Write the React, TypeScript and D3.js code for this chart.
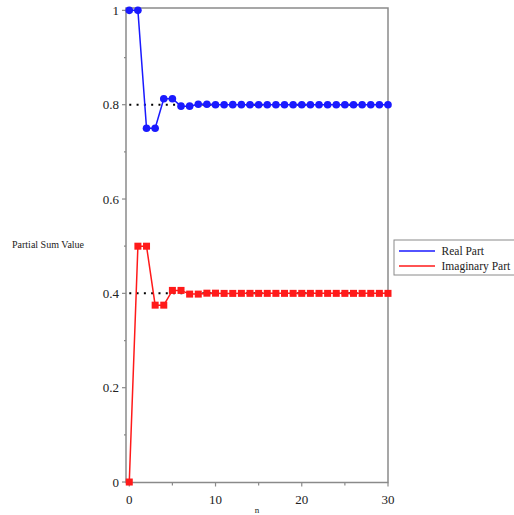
import React from "react";
import * as d3 from "d3";

const nValues = [0,1,2,3,4,5,6,7,8,9,10,11,12,13,14,15,16,17,18,19,20,21,22,23,24,25,26,27,28,29,30];
const realPart = [1,1,0.75,0.75,0.8125,0.8125,0.796875,0.796875,0.80078125,0.80078125,0.7998046875,0.7998046875,0.80004883,0.80004883,0.79998779,0.79998779,0.80000305,0.80000305,0.79999924,0.79999924,0.80000019,0.80000019,0.79999995,0.79999995,0.80000001,0.80000001,0.8,0.8,0.8,0.8,0.8];
const imagPart = [0,0.5,0.5,0.375,0.375,0.40625,0.40625,0.3984375,0.3984375,0.400390625,0.400390625,0.39990234,0.39990234,0.40002441,0.40002441,0.3999939,0.3999939,0.40000153,0.40000153,0.39999962,0.39999962,0.4000001,0.4000001,0.39999998,0.39999998,0.4,0.4,0.4,0.4,0.4,0.4];
const limitLines = [0.8, 0.4];
const xTicks = [0, 10, 20, 30];
const xMinorTicks = [5, 15, 25];
const yTicks = [0, 0.2, 0.4, 0.6, 0.8, 1];
const yMinorTicks = [0.1, 0.3, 0.5, 0.7, 0.9];
const seriesNames = ["Real Part", "Imaginary Part"];

export default function App() {
  const W = 514, H = 515;
  const left = 126, right = 388, top = 8, bottom = 482.5;
  const x = d3.scaleLinear().domain([-0.38, 30]).range([left, right]);
  const y = d3.scaleLinear().domain([-0.001, 1.005]).range([bottom, top]);
  const line = d3.line<number>().x((_, i) => x(nValues[i])).y((d) => y(d));
  const axisColor = "#8a8a8a";
  const font = "Liberation Serif";
  const blue = "#1a1aff";
  const red = "#ff1a1a";
  return (
    <svg width={W} height={H} style={{ position: "absolute", left: 0, top: 0, fontFamily: font }}>
      <rect x={0} y={0} width={W} height={H} fill="#fff" />
      <rect x={left} y={top} width={right - left} height={bottom - top} fill="none" stroke={axisColor} strokeWidth={1.5} />
      {yTicks.map((t) => (
        <g key={"y" + t}>
          <line x1={left - 4} x2={left} y1={y(t)} y2={y(t)} stroke={axisColor} strokeWidth={1.2} />
          <text x={left - 7} y={y(t)} dy="0.35em" textAnchor="end" fontSize={13} fill="#222" style={{ fontFamily: font }}>{String(t)}</text>
        </g>
      ))}
      {yMinorTicks.map((t) => (
        <line key={"ym" + t} x1={left - 2} x2={left} y1={y(t)} y2={y(t)} stroke={axisColor} strokeWidth={1.2} />
      ))}
      {xTicks.map((t) => (
        <g key={"x" + t}>
          <line x1={x(t)} x2={x(t)} y1={bottom} y2={bottom + 4} stroke={axisColor} strokeWidth={1.2} />
          <text x={x(t)} y={bottom + 21} textAnchor="middle" fontSize={13} fill="#222" style={{ fontFamily: font }}>{String(t)}</text>
        </g>
      ))}
      {xMinorTicks.map((t) => (
        <line key={"xm" + t} x1={x(t)} x2={x(t)} y1={bottom} y2={bottom + 3} stroke={axisColor} strokeWidth={1.2} />
      ))}
      {limitLines.map((v) => (
        <line key={"l" + v} x1={x(0)} x2={right} y1={y(v)} y2={y(v)} stroke="#000" strokeWidth={2} strokeDasharray="2 5.3" />
      ))}
      <path d={line(realPart) || ""} fill="none" stroke={blue} strokeWidth={1.5} />
      {realPart.map((v, i) => (
        <circle key={"c" + i} cx={x(nValues[i])} cy={y(v)} r={3.8} fill={blue} />
      ))}
      <path d={line(imagPart) || ""} fill="none" stroke={red} strokeWidth={1.5} />
      {imagPart.map((v, i) => (
        <rect key={"s" + i} x={x(nValues[i]) - 3.5} y={y(v) - 3.5} width={7} height={7} fill={red} />
      ))}
      <text x={12} y={248} fontSize={10} fill="#222" style={{ fontFamily: font }}>Partial Sum Value</text>
      <text x={257} y={513} textAnchor="middle" fontSize={9} fill="#222" style={{ fontFamily: font }}>n</text>
      <rect x={394} y={240} width={160} height={35} fill="#fff" stroke={axisColor} strokeWidth={1} />
      <line x1={399} x2={435} y1={251} y2={251} stroke={blue} strokeWidth={1.5} />
      <text x={441.5} y={251} dy="0.35em" fontSize={11.5} fill="#222" style={{ fontFamily: font }}>{seriesNames[0]}</text>
      <line x1={399} x2={435} y1={266} y2={266} stroke={red} strokeWidth={1.5} />
      <text x={441.5} y={266} dy="0.35em" fontSize={11.5} fill="#222" style={{ fontFamily: font }}>{seriesNames[1]}</text>
    </svg>
  );
}
